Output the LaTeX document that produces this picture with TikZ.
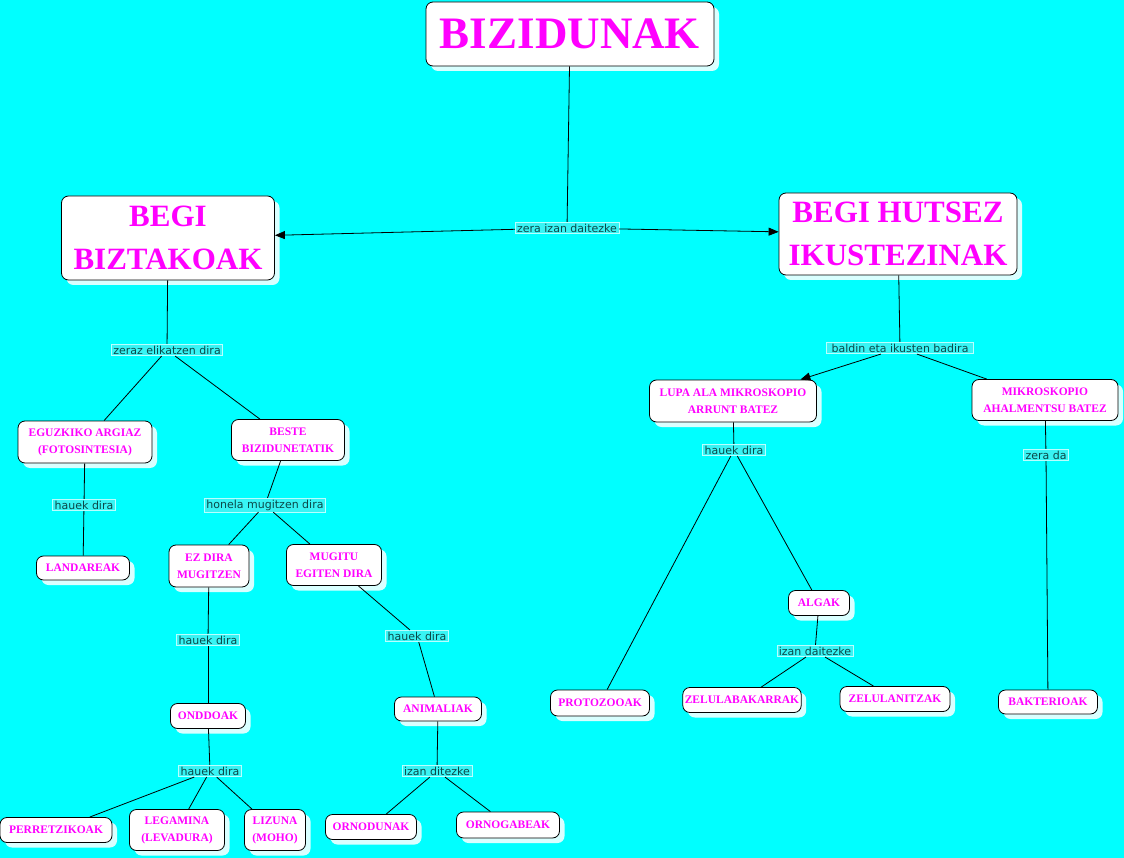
\documentclass[tikz,border=0pt]{standalone}
\usepackage{fontspec}
\setmainfont{Liberation Serif}
\newfontfamily\lblfont{DejaVu Sans}
\usetikzlibrary{shadows,arrows.meta}
\definecolor{bg}{HTML}{00FFFF}
\definecolor{mag}{HTML}{FF00FF}
\definecolor{lbltext}{HTML}{0B4848}
\definecolor{lblfill}{HTML}{38F4F4}
\definecolor{lbldraw}{HTML}{B8FFFF}
\begin{document}
\begin{tikzpicture}[x=1pt,y=-1pt,
  box/.style={draw=black, line width=0.8pt, fill=white, rounded corners=7pt, align=center, text=mag, inner sep=2pt,
    drop shadow={shadow xshift=5pt, shadow yshift=-5pt, fill=white, opacity=0.85}},
  big/.style={box, font=\fontsize{45}{48}\selectfont\bfseries},
  mid/.style={box, font=\fontsize{31}{43}\selectfont\bfseries},
  sm/.style={box, font=\fontsize{11.5}{17}\selectfont\bfseries},
  lbl/.style={fill=lblfill, draw=lbldraw, line width=0.6pt, text=lbltext, inner xsep=2pt, inner ysep=1.5pt,
    font=\lblfont\fontsize{11}{12}\selectfont},
  conn/.style={draw=black, line width=0.8pt},
  arr/.style={conn, -{Triangle[length=10pt,width=8pt]}}]
\fill[bg] (0,0) rectangle (1124,858);
\useasboundingbox (0,0) rectangle (1124,858);

% nodes
\node[big, minimum width=288, minimum height=64] (root) at (570,34) {BIZIDUNAK};
\node[mid, minimum width=213, minimum height=84] (bb) at (168,238) {BEGI\\BIZTAKOAK};
\node[mid, minimum width=238, minimum height=82] (bh) at (898,234) {BEGI HUTSEZ\\IKUSTEZINAK};
\node[lbl] (l1) at (567,228) {zera izan daitezke};

\node[lbl] (l2) at (167,350) {zeraz elikatzen dira};
\node[sm, minimum width=134, minimum height=42] (eg) at (85,442) {EGUZKIKO ARGIAZ\\(FOTOSINTESIA)};
\node[sm, minimum width=113, minimum height=41] (be) at (288,440) {BESTE\\BIZIDUNETATIK};
\node[lbl] (l3) at (84,505) {hauek dira};
\node[sm, minimum width=93, minimum height=24] (la) at (83,568) {LANDAREAK};
\node[lbl] (l4) at (265,505) {honela mugitzen dira};
\node[sm, minimum width=80, minimum height=42] (ez) at (209,566) {EZ DIRA\\MUGITZEN};
\node[sm, minimum width=95, minimum height=41] (mu) at (334,565) {MUGITU\\EGITEN DIRA};
\node[lbl] (l5) at (208,640) {hauek dira};
\node[sm, minimum width=75, minimum height=25] (on) at (208,716) {ONDDOAK};
\node[lbl] (l6) at (417,636) {hauek dira};
\node[sm, minimum width=87, minimum height=24] (an) at (438,709) {ANIMALIAK};
\node[lbl] (l7) at (210,771) {hauek dira};
\node[sm, minimum width=112, minimum height=25] (pe) at (56,830) {PERRETZIKOAK};
\node[sm, minimum width=95, minimum height=41] (le) at (177,830) {LEGAMINA\\(LEVADURA)};
\node[sm, minimum width=61, minimum height=41] (li) at (275,830) {LIZUNA\\(MOHO)};
\node[lbl] (l8) at (437,771) {izan ditezke};
\node[sm, minimum width=91, minimum height=25] (or) at (371,827) {ORNODUNAK};
\node[sm, minimum width=103, minimum height=26] (og) at (508,825) {ORNOGABEAK};

\node[lbl, inner xsep=5pt] (l9) at (900,348) {baldin eta ikusten badira};
\node[sm, minimum width=167, minimum height=42] (lu) at (733,401) {LUPA ALA MIKROSKOPIO\\ARRUNT BATEZ};
\node[sm, minimum width=146, minimum height=41] (mk) at (1045,400) {MIKROSKOPIO\\AHALMENTSU BATEZ};
\node[lbl] (l10) at (734,450) {hauek dira};
\node[sm, minimum width=61, minimum height=25] (al) at (819,603) {ALGAK};
\node[sm, minimum width=99, minimum height=26] (pr) at (600,703) {PROTOZOOAK};
\node[lbl] (l11) at (815,651) {izan daitezke};
\node[sm, minimum width=110, minimum height=25] (z1) at (742,700) {ZELULABAKARRAK};
\node[sm, minimum width=110, minimum height=25] (z2) at (895,699) {ZELULANITZAK};
\node[lbl] (l12) at (1046,455) {zera da};
\node[sm, minimum width=99, minimum height=24] (ba) at (1048,702) {BAKTERIOAK};

% connectors
\draw[conn] (root) -- (l1);
\draw[arr] (l1) -- (bb);
\draw[arr] (l1) -- (bh);
\draw[conn] (bb) -- (l2);
\draw[conn] (l2) -- (eg);
\draw[conn] (l2) -- (be);
\draw[conn] (eg) -- (l3);
\draw[conn] (l3) -- (la);
\draw[conn] (be) -- (l4);
\draw[conn] (l4) -- (ez);
\draw[conn] (l4) -- (mu);
\draw[conn] (ez) -- (l5);
\draw[conn] (l5) -- (on);
\draw[conn] (mu) -- (l6);
\draw[conn] (l6) -- (an);
\draw[conn] (on) -- (l7);
\draw[conn] (l7) -- (pe);
\draw[conn] (l7) -- (le);
\draw[conn] (l7) -- (li);
\draw[conn] (an) -- (l8);
\draw[conn] (l8) -- (or);
\draw[conn] (l8) -- (og);
\draw[conn] (bh) -- (l9);
\draw[arr] (l9) -- (lu);
\draw[conn] (l9) -- (mk);
\draw[conn] (lu) -- (l10);
\draw[conn] (l10) -- (pr);
\draw[conn] (l10) -- (al);
\draw[conn] (al) -- (l11);
\draw[conn] (l11) -- (z1);
\draw[conn] (l11) -- (z2);
\draw[conn] (mk) -- (l12);
\draw[conn] (l12) -- (ba);
\end{tikzpicture}
\end{document}
